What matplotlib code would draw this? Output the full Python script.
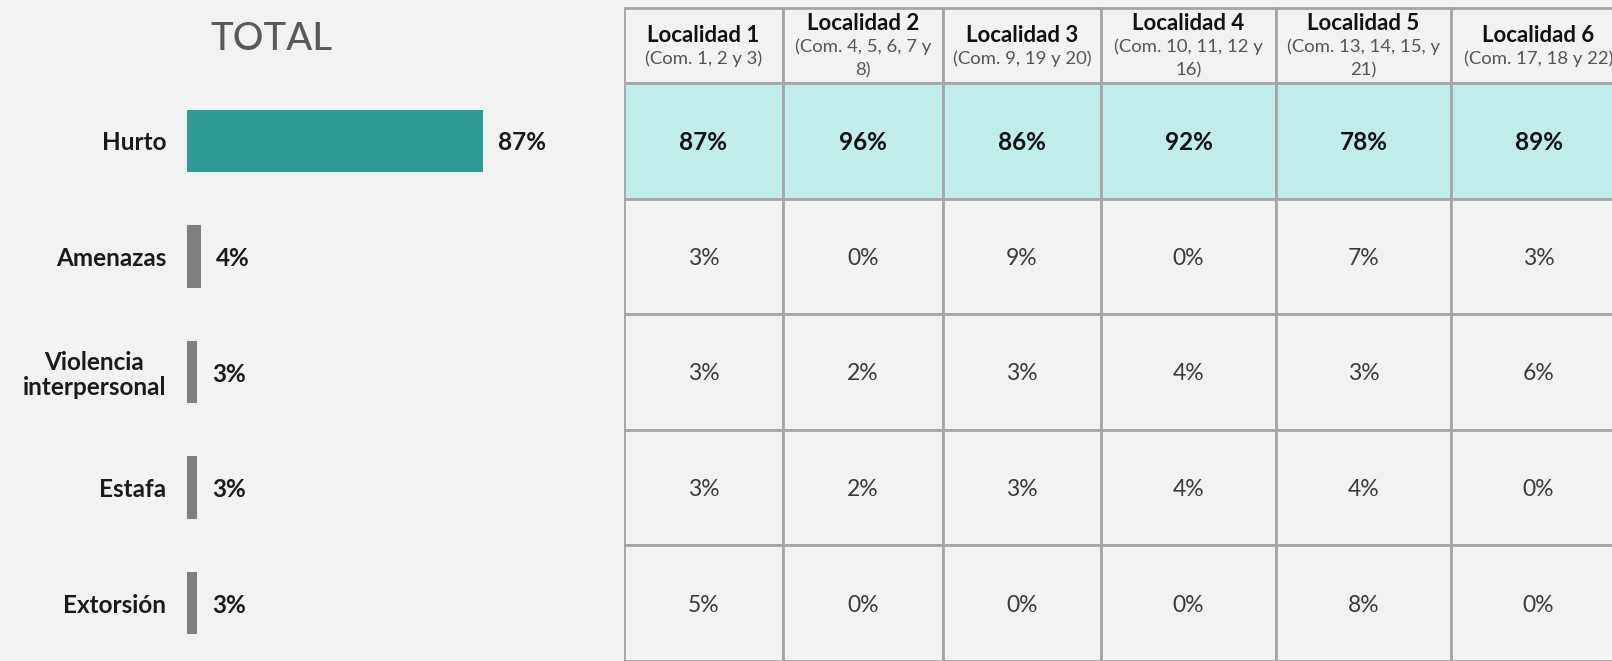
import matplotlib
matplotlib.use("agg")
import matplotlib.pyplot as plt
from matplotlib.patches import Rectangle

# data
categorias = ["Hurto", "Amenazas", "Violencia\ninterpersonal", "Estafa", "Extorsión"]
total = [87, 4, 3, 3, 3]
localidades = ["Localidad 1", "Localidad 2", "Localidad 3", "Localidad 4", "Localidad 5", "Localidad 6"]
comunas = ["(Com. 1, 2 y 3)", "(Com. 4, 5, 6, 7 y\n8)", "(Com. 9, 19 y 20)",
           "(Com. 10, 11, 12 y\n16)", "(Com. 13, 14, 15, y\n21)", "(Com. 17, 18 y 22)"]
valores = [
    [87, 96, 86, 92, 78, 89],
    [3, 0, 9, 0, 7, 3],
    [3, 2, 3, 4, 3, 6],
    [3, 2, 3, 4, 4, 0],
    [5, 0, 0, 0, 8, 0],
]

BG = "#F2F2F2"
TEAL = "#2E9C94"
GRIS = "#7F7F7F"
RESALTE = "#C0ECE9"
LINEA = "#A6A6A6"
plt.rcParams["font.family"] = ["Lato", "DejaVu Sans"]

W, H = 1612, 661
fig = plt.figure(figsize=(W / 100, H / 100), dpi=100, facecolor=BG)

# ---- left: total bars ----
top_rows, bot_rows = 83, 661
ax = fig.add_axes([187 / W, 1 - bot_rows / H, 340 / W, (bot_rows - top_rows) / H])
ax.set_facecolor("none")
n = len(categorias)
ypos = list(range(n))
colores = [TEAL] + [GRIS] * (n - 1)
bars = ax.barh(ypos, total, height=0.54, color=colores)
ax.set_ylim(n - 0.5, -0.5)
ax.set_xlim(0, 100)
ax.set_yticks(ypos)
ax.set_yticklabels(categorias, fontsize=17.5, fontweight="bold", color="#1A1A1A",
                   multialignment="center", linespacing=1.1)
ax.tick_params(axis="y", length=0, pad=15)
ax.set_xticks([])
for s in ax.spines.values():
    s.set_visible(False)
for b, v in zip(bars, total):
    ax.annotate(f"{v}%", (b.get_width(), b.get_y() + b.get_height() / 2),
                xytext=(11, -1.5), textcoords="offset points", va="center", ha="left",
                fontsize=17.5, fontweight="bold", color="#1A1A1A")
fig.text(271 / W, 1 - 40 / H, "TOTAL", ha="center", va="center", fontsize=27.5,
         color="#595959", fontweight="medium")

# ---- right: table ----
x0 = 624
tx = fig.add_axes([x0 / W, 0, (W - x0) / W, 1])
tx.set_xlim(0, W - x0)
tx.set_ylim(H, 0)
tx.axis("off")
anchos = [159, 160, 158, 175, 175, 175]
header_top, header_h, fila_h = 8, 75, 115.6
bordes = [0]
for a in anchos:
    bordes.append(bordes[-1] + a)

for j, (loc, com) in enumerate(zip(localidades, comunas)):
    xl, w = bordes[j], anchos[j]
    xc = xl + w / 2
    tx.add_patch(Rectangle((xl, header_top), w, header_h, facecolor=BG,
                           edgecolor=LINEA, lw=2, clip_on=True))
    lineas = com.split("\n")
    yname = header_top + header_h / 2 - len(lineas) * 11.5 + 1
    tx.text(xc, yname, loc, ha="center", va="center", fontsize=16,
            fontweight="bold", color="#111111")
    for k, lin in enumerate(lineas):
        tx.text(xc, yname + 23.5 * (k + 1), lin, ha="center", va="center",
                fontsize=13.3, color="#555555")
    for i, fila in enumerate(valores):
        y = header_top + header_h + i * fila_h
        fc = RESALTE if i == 0 else BG
        tx.add_patch(Rectangle((xl, y), w, fila_h, facecolor=fc, edgecolor=LINEA,
                               lw=2, clip_on=True))
        tx.text(xc, y + fila_h / 2 + 2, f"{fila[j]}%", ha="center", va="center",
                fontsize=17.5 if i == 0 else 16.5,
                fontweight="bold" if i == 0 else "normal",
                color="#111111" if i == 0 else "#3A3A3A")

fig.savefig("out.png", dpi=100, facecolor=BG)
